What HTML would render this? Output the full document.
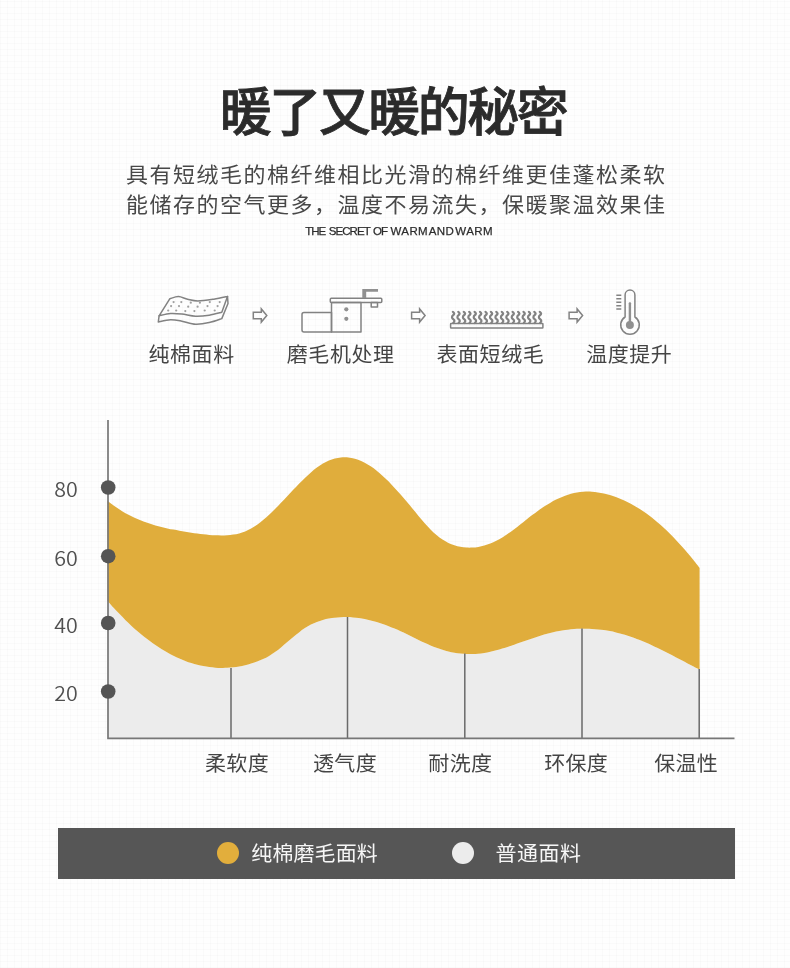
<!DOCTYPE html>
<html lang="zh-CN">
<head>
<meta charset="utf-8">
<title>暖了又暖的秘密</title>
<style>
*{margin:0;padding:0;box-sizing:border-box}
html,body{width:790px;height:968px;overflow:hidden;background:#fdfdfd}
body{font-family:"Liberation Sans","Noto Sans CJK SC",sans-serif;color:#3a3a3a;position:relative}
.page{position:absolute;left:0;top:0;width:790px;height:968px;overflow:hidden;background-color:#fefefe;background-image:repeating-linear-gradient(0deg,rgba(0,0,0,.014) 0 1px,transparent 1px 6px),repeating-linear-gradient(90deg,rgba(0,0,0,.014) 0 1px,transparent 1px 7px)}
.abs{position:absolute;white-space:nowrap}
.title{left:-2px;width:790px;top:70.5px;text-align:center;font-family:"Noto Sans CJK SC",sans-serif;font-weight:500;font-size:52px;line-height:76px;letter-spacing:-2.5px;color:#2b2b2b;-webkit-text-stroke:0.8px #2b2b2b}
.sub{left:1.3px;width:790px;text-align:center;font-family:"Noto Sans CJK SC",sans-serif;font-weight:400;font-size:22px;line-height:30px;letter-spacing:1.5px;color:#484848}
.s1{top:156.5px}
.s2{top:187px}
.en{left:305.2px;top:222.5px;font-family:"Liberation Sans",sans-serif;font-size:11.5px;line-height:16px;color:#2c2c2c;-webkit-text-stroke:0.25px #2c2c2c}
.e1{letter-spacing:-0.95px;word-spacing:1.2px}
.e2{letter-spacing:0.4px;word-spacing:-2.4px}
.lbl{font-family:"Noto Sans CJK SC",sans-serif;font-weight:400;font-size:21px;line-height:28px;letter-spacing:0.55px;color:#444;text-align:center}
.xl{font-family:"Noto Sans CJK SC",sans-serif;font-weight:400;font-size:21px;line-height:28px;letter-spacing:0.3px;color:#444;text-align:center;width:100px}
.yl{font-family:"Noto Sans CJK SC",sans-serif;font-weight:350;font-size:20px;line-height:28px;color:#505050;left:46.2px;width:40px;text-align:center;transform:scale(1.07,.98);transform-origin:50% 50%}
.legend{left:58px;top:828px;width:677px;height:51px;background:#565656}
.lt{font-family:"Noto Sans CJK SC",sans-serif;font-weight:400;font-size:21px;line-height:28px;letter-spacing:0.1px;color:#f6f6f6}
.dot{border-radius:50%}
.sub,.lbl,.xl,.lt{transform:scaleY(.955);transform-origin:50% 50%}
svg{position:absolute;left:0;top:0}
</style>
</head>
<body>
<div class="page">
  <h1 class="abs title">暖了又暖的秘密</h1>
  <p class="abs sub s1">具有短绒毛的棉纤维相比光滑的棉纤维更佳蓬松柔软</p>
  <p class="abs sub s2">能储存的空气更多，温度不易流失，保暖聚温效果佳</p>
  <p class="abs en"><span class="e1">THE SECRET OF </span><span class="e2">WARM AND WARM</span></p>

  <!--ICONS-->
<svg width="790" height="968" viewBox="0 0 790 968">
<g fill="none" stroke="#828282" stroke-width="1.5" stroke-linejoin="round" stroke-linecap="round">
<path d="M169.9 298.7C171.3 298.4 175.6 296.5 178.5 296.6C181.4 296.7 184.4 298.5 187.6 299.2C190.8 299.9 193.4 300.9 197.8 300.9C202.2 300.9 208.9 299.9 213.8 299.2C218.8 298.4 225.2 296.9 227.5 296.4L221.8 312.3C219.7 312.8 213.6 314.5 209.2 315.2C204.8 315.9 200.1 316.5 195.6 316.3C191.1 316.1 186.1 314.6 181.9 314.1C177.7 313.6 174.3 313.2 170.5 313.5C166.7 313.8 161.0 315.4 159.1 315.8Z"/>
<path d="M159.1 315.8L158.3 322C160.3 321.6 166.6 319.8 170.5 319.7C174.4 319.6 177.7 320.4 181.9 321.2C186.1 322.0 191.1 324.1 195.6 324.3C200.1 324.5 204.8 323.6 209.2 322.6C213.6 321.7 219.7 319.3 221.8 318.6L228 303.5L227.5 296.4"/>
<g id="arrows" stroke-width="1.5" stroke-linejoin="miter">
<path d="M253.3 312.3H261.3V308.9L266.8 315.5L261.3 322.1V318.8H253.3Z"/>
<path d="M253.3 312.3H261.3V308.9L266.8 315.5L261.3 322.1V318.8H253.3Z" transform="translate(158.3 0)"/>
<path d="M253.3 312.3H261.3V308.9L266.8 315.5L261.3 322.1V318.8H253.3Z" transform="translate(315.8 0)"/>
</g>
<path d="M304 312.5H331.5V332H304a2 2 0 0 1-2-2V314.5a2 2 0 0 1 2-2Z"/>
<path d="M331.5 302.5H361V332H331.5Z"/>
<rect x="330.3" y="298.2" width="51.5" height="4.3" rx="1"/>
<rect x="371.2" y="302.5" width="6.3" height="4.5"/>
<rect x="450.6" y="323.5" width="92.3" height="4.6" rx="0.5"/>
<path stroke-width="2.2" d="M453.2 323c1.6-1.6 1.6-2.6 0-3.9s-1.6-2.6 0-3.9s0.9-2.6-0.3-3.4M458.6 323c1.6-1.6 1.6-2.6 0-3.9s-1.6-2.6 0-3.9s0.9-2.6-0.3-3.4M464.1 323c1.6-1.6 1.6-2.6 0-3.9s-1.6-2.6 0-3.9s0.9-2.6-0.3-3.4M469.5 323c1.6-1.6 1.6-2.6 0-3.9s-1.6-2.6 0-3.9s0.9-2.6-0.3-3.4M474.9 323c1.6-1.6 1.6-2.6 0-3.9s-1.6-2.6 0-3.9s0.9-2.6-0.3-3.4M480.3 323c1.6-1.6 1.6-2.6 0-3.9s-1.6-2.6 0-3.9s0.9-2.6-0.3-3.4M485.8 323c1.6-1.6 1.6-2.6 0-3.9s-1.6-2.6 0-3.9s0.9-2.6-0.3-3.4M491.2 323c1.6-1.6 1.6-2.6 0-3.9s-1.6-2.6 0-3.9s0.9-2.6-0.3-3.4M496.6 323c1.6-1.6 1.6-2.6 0-3.9s-1.6-2.6 0-3.9s0.9-2.6-0.3-3.4M502.1 323c1.6-1.6 1.6-2.6 0-3.9s-1.6-2.6 0-3.9s0.9-2.6-0.3-3.4M507.5 323c1.6-1.6 1.6-2.6 0-3.9s-1.6-2.6 0-3.9s0.9-2.6-0.3-3.4M512.9 323c1.6-1.6 1.6-2.6 0-3.9s-1.6-2.6 0-3.9s0.9-2.6-0.3-3.4M518.4 323c1.6-1.6 1.6-2.6 0-3.9s-1.6-2.6 0-3.9s0.9-2.6-0.3-3.4M523.8 323c1.6-1.6 1.6-2.6 0-3.9s-1.6-2.6 0-3.9s0.9-2.6-0.3-3.4M529.2 323c1.6-1.6 1.6-2.6 0-3.9s-1.6-2.6 0-3.9s0.9-2.6-0.3-3.4M534.6 323c1.6-1.6 1.6-2.6 0-3.9s-1.6-2.6 0-3.9s0.9-2.6-0.3-3.4M540.1 323c1.6-1.6 1.6-2.6 0-3.9s-1.6-2.6 0-3.9s0.9-2.6-0.3-3.4"/>
<path stroke-width="1.5" d="M625.1 317V294.9a4.9 4.9 0 0 1 9.8 0V317a9.3 9.3 0 1 1-9.8 0Z"/>
<path stroke-width="1.5" stroke-linecap="butt" d="M616.3 295.2H621.3M616.3 298.8H621.3M616.3 302.2H621.3M616.3 305.7H621.3M616.3 309.1H621.3"/>
</g>
<g fill="#909090">
<path d="M362.3 289H378V291.8H366.2V298H362.3Z"/>
<circle cx="346.3" cy="309.3" r="2.1"/><circle cx="346.3" cy="318.8" r="2.1"/>
<circle cx="629.9" cy="324.9" r="4"/>
<rect x="628.7" y="302.3" width="2.4" height="22" rx="1"/>
</g>
<g fill="#a0a0a0"><circle cx="173.6" cy="302.1" r="1.1"/><circle cx="181.3" cy="302.1" r="1.1"/><circle cx="190.8" cy="302.7" r="1.1"/><circle cx="199.9" cy="302.7" r="1.1"/><circle cx="209.8" cy="302.1" r="1.1"/><circle cx="219.7" cy="302.1" r="1.1"/><circle cx="171.1" cy="306.1" r="1.1"/><circle cx="179.0" cy="306.1" r="1.1"/><circle cx="188.2" cy="306.7" r="1.1"/><circle cx="197.6" cy="306.7" r="1.1"/><circle cx="207.5" cy="306.1" r="1.1"/><circle cx="217.6" cy="306.1" r="1.1"/><circle cx="168.2" cy="310.5" r="1.1"/><circle cx="176.2" cy="310.5" r="1.1"/><circle cx="185.3" cy="311.1" r="1.1"/><circle cx="194.4" cy="311.1" r="1.1"/><circle cx="204.7" cy="310.5" r="1.1"/><circle cx="214.7" cy="310.5" r="1.1"/></g>
</svg>
<!--/ICONS-->
  <div class="abs lbl" style="left:91.6px;top:339.2px;width:200px">纯棉面料</div>
  <div class="abs lbl" style="left:240.7px;top:339.2px;width:200px">磨毛机处理</div>
  <div class="abs lbl" style="left:390.4px;top:339.2px;width:200px">表面短绒毛</div>
  <div class="abs lbl" style="left:529.3px;top:339.2px;width:200px">温度提升</div>

  <!--CHART-->
<svg width="790" height="968" viewBox="0 0 790 968">
<path d="M107.6 600.9C108.6 602.0 111.6 605.5 113.6 607.7C115.6 609.9 117.6 612.0 119.6 614.1C121.6 616.2 123.5 618.2 125.5 620.2C127.5 622.1 129.5 624.0 131.5 625.9C133.5 627.7 135.5 629.5 137.5 631.2C139.5 632.9 141.5 634.6 143.5 636.2C145.5 637.8 147.5 639.3 149.5 640.8C151.5 642.3 153.4 643.7 155.4 645.1C157.4 646.4 159.4 647.7 161.4 649.0C163.4 650.2 165.4 651.4 167.4 652.5C169.4 653.6 171.4 654.7 173.4 655.7C175.4 656.7 177.4 657.6 179.4 658.5C181.4 659.4 183.3 660.2 185.3 660.9C187.3 661.7 189.3 662.4 191.3 663.0C193.3 663.6 195.3 664.2 197.3 664.7C199.3 665.2 201.3 665.7 203.3 666.1C205.3 666.5 207.3 666.8 209.3 667.1C211.2 667.3 213.2 667.5 215.2 667.7C217.2 667.8 219.2 667.9 221.2 667.9C223.2 668.0 225.2 667.9 227.2 667.8C229.2 667.7 231.2 667.5 233.2 667.3C235.2 667.1 237.2 666.8 239.2 666.5C241.1 666.1 243.1 665.7 245.1 665.2C247.1 664.8 249.1 664.2 251.1 663.6C253.1 663.0 255.1 662.4 257.1 661.6C259.1 660.9 261.1 660.1 263.1 659.1C265.1 658.2 267.1 657.2 269.1 656.0C271.0 654.8 273.0 653.5 275.0 652.1C277.0 650.7 279.0 649.1 281.0 647.4C283.0 645.8 285.0 644.0 287.0 642.3C289.0 640.6 291.0 638.8 293.0 637.2C295.0 635.5 297.0 633.9 299.0 632.4C300.9 630.9 302.9 629.4 304.9 628.1C306.9 626.8 308.9 625.6 310.9 624.6C312.9 623.5 314.9 622.6 316.9 621.9C318.9 621.1 320.9 620.5 322.9 619.9C324.9 619.4 326.9 618.9 328.9 618.6C330.8 618.2 332.8 617.9 334.8 617.7C336.8 617.4 338.8 617.3 340.8 617.2C342.8 617.1 344.8 617.1 346.8 617.1C348.8 617.1 350.8 617.3 352.8 617.4C354.8 617.6 356.8 617.8 358.8 618.1C360.7 618.4 362.7 618.7 364.7 619.1C366.7 619.5 368.7 620.0 370.7 620.5C372.7 621.0 374.7 621.5 376.7 622.1C378.7 622.7 380.7 623.4 382.7 624.0C384.7 624.7 386.7 625.5 388.7 626.2C390.6 627.0 392.6 627.8 394.6 628.6C396.6 629.5 398.6 630.4 400.6 631.3C402.6 632.2 404.6 633.1 406.6 634.1C408.6 635.0 410.6 636.0 412.6 637.0C414.6 638.0 416.6 638.9 418.5 639.9C420.5 640.9 422.5 641.8 424.5 642.7C426.5 643.6 428.5 644.5 430.5 645.4C432.5 646.2 434.5 647.0 436.5 647.8C438.5 648.5 440.5 649.2 442.5 649.8C444.5 650.4 446.5 651.0 448.4 651.5C450.4 651.9 452.4 652.4 454.4 652.7C456.4 653.1 458.4 653.4 460.4 653.6C462.4 653.8 464.4 654.0 466.4 654.0C468.4 654.1 470.4 654.1 472.4 654.1C474.4 654.0 476.4 653.9 478.3 653.7C480.3 653.5 482.3 653.2 484.3 652.9C486.3 652.6 488.3 652.2 490.3 651.7C492.3 651.3 494.3 650.8 496.3 650.3C498.3 649.8 500.3 649.2 502.3 648.6C504.3 648.0 506.3 647.4 508.2 646.7C510.2 646.1 512.2 645.4 514.2 644.7C516.2 644.0 518.2 643.3 520.2 642.6C522.2 641.9 524.2 641.2 526.2 640.5C528.2 639.8 530.2 639.1 532.2 638.4C534.2 637.8 536.2 637.1 538.1 636.5C540.1 635.8 542.1 635.2 544.1 634.6C546.1 634.1 548.1 633.5 550.1 633.0C552.1 632.5 554.1 632.0 556.1 631.6C558.1 631.2 560.1 630.8 562.1 630.5C564.1 630.2 566.1 629.9 568.0 629.7C570.0 629.4 572.0 629.2 574.0 629.1C576.0 628.9 578.0 628.8 580.0 628.8C582.0 628.7 584.0 628.7 586.0 628.7C588.0 628.7 590.0 628.8 592.0 628.9C594.0 629.0 596.0 629.2 597.9 629.4C599.9 629.6 601.9 629.8 603.9 630.1C605.9 630.4 607.9 630.8 609.9 631.1C611.9 631.5 613.9 631.9 615.9 632.4C617.9 632.9 619.9 633.4 621.9 634.0C623.9 634.5 625.8 635.1 627.8 635.8C629.8 636.4 631.8 637.1 633.8 637.8C635.8 638.6 637.8 639.3 639.8 640.1C641.8 640.9 643.8 641.8 645.8 642.6C647.8 643.5 649.8 644.4 651.8 645.3C653.8 646.2 655.7 647.2 657.7 648.1C659.7 649.1 661.7 650.1 663.7 651.0C665.7 652.0 667.7 653.1 669.7 654.1C671.7 655.1 673.7 656.1 675.7 657.2C677.7 658.2 679.7 659.2 681.7 660.3C683.7 661.3 685.6 662.4 687.6 663.4C689.6 664.5 691.6 665.5 693.6 666.5C695.6 667.6 698.6 669.1 699.6 669.6L699.9 738L107.6 738Z" fill="#ececec"/>
<path d="M107.6 501.0C108.6 501.8 111.6 504.1 113.6 505.6C115.6 507.0 117.6 508.3 119.6 509.6C121.6 510.9 123.5 512.1 125.5 513.2C127.5 514.3 129.5 515.4 131.5 516.3C133.5 517.3 135.5 518.2 137.5 519.1C139.5 520.0 141.5 520.8 143.5 521.5C145.5 522.3 147.5 523.0 149.5 523.6C151.5 524.3 153.4 524.9 155.4 525.5C157.4 526.0 159.4 526.6 161.4 527.0C163.4 527.5 165.4 528.0 167.4 528.4C169.4 528.9 171.4 529.3 173.4 529.6C175.4 530.0 177.4 530.4 179.4 530.7C181.4 531.1 183.3 531.4 185.3 531.7C187.3 532.1 189.3 532.4 191.3 532.7C193.3 533.0 195.3 533.3 197.3 533.5C199.3 533.8 201.3 534.1 203.3 534.3C205.3 534.5 207.3 534.7 209.3 534.9C211.2 535.1 213.2 535.2 215.2 535.3C217.2 535.4 219.2 535.4 221.2 535.4C223.2 535.4 225.2 535.3 227.2 535.2C229.2 535.1 231.2 534.9 233.2 534.6C235.2 534.3 237.2 533.9 239.2 533.4C241.1 532.9 243.1 532.3 245.1 531.5C247.1 530.7 249.1 529.7 251.1 528.6C253.1 527.5 255.1 526.2 257.1 524.8C259.1 523.4 261.1 521.8 263.1 520.1C265.1 518.5 267.1 516.7 269.1 514.8C271.0 512.9 273.0 511.0 275.0 509.0C277.0 507.0 279.0 504.9 281.0 502.8C283.0 500.7 285.0 498.6 287.0 496.5C289.0 494.3 291.0 492.2 293.0 490.1C295.0 488.0 297.0 485.9 299.0 483.8C300.9 481.8 302.9 479.8 304.9 477.9C306.9 476.0 308.9 474.2 310.9 472.4C312.9 470.7 314.9 469.1 316.9 467.6C318.9 466.1 320.9 464.8 322.9 463.6C324.9 462.4 326.9 461.4 328.9 460.5C330.8 459.7 332.8 459.0 334.8 458.5C336.8 458.0 338.8 457.6 340.8 457.4C342.8 457.2 344.8 457.2 346.8 457.3C348.8 457.5 350.8 457.8 352.8 458.2C354.8 458.6 356.8 459.2 358.8 460.0C360.7 460.7 362.7 461.6 364.7 462.7C366.7 463.7 368.7 464.9 370.7 466.3C372.7 467.6 374.7 469.1 376.7 470.7C378.7 472.3 380.7 474.0 382.7 475.9C384.7 477.7 386.7 479.6 388.7 481.6C390.6 483.7 392.6 485.8 394.6 487.9C396.6 490.1 398.6 492.4 400.6 494.6C402.6 496.9 404.6 499.3 406.6 501.6C408.6 504.0 410.6 506.4 412.6 508.8C414.6 511.2 416.6 513.6 418.5 516.0C420.5 518.4 422.5 520.8 424.5 523.0C426.5 525.2 428.5 527.4 430.5 529.4C432.5 531.4 434.5 533.4 436.5 535.0C438.5 536.7 440.5 538.2 442.5 539.6C444.5 540.9 446.5 542.0 448.4 542.9C450.4 543.9 452.4 544.7 454.4 545.3C456.4 546.0 458.4 546.5 460.4 546.8C462.4 547.2 464.4 547.4 466.4 547.6C468.4 547.7 470.4 547.7 472.4 547.6C474.4 547.5 476.4 547.3 478.3 546.9C480.3 546.6 482.3 546.1 484.3 545.6C486.3 545.0 488.3 544.3 490.3 543.5C492.3 542.7 494.3 541.8 496.3 540.8C498.3 539.8 500.3 538.7 502.3 537.5C504.3 536.3 506.3 534.9 508.2 533.5C510.2 532.2 512.2 530.7 514.2 529.2C516.2 527.7 518.2 526.1 520.2 524.5C522.2 523.0 524.2 521.4 526.2 519.8C528.2 518.2 530.2 516.7 532.2 515.1C534.2 513.6 536.2 512.1 538.1 510.7C540.1 509.2 542.1 507.9 544.1 506.6C546.1 505.3 548.1 504.0 550.1 502.9C552.1 501.7 554.1 500.6 556.1 499.6C558.1 498.6 560.1 497.7 562.1 496.9C564.1 496.0 566.1 495.3 568.0 494.7C570.0 494.0 572.0 493.5 574.0 493.0C576.0 492.6 578.0 492.2 580.0 492.0C582.0 491.8 584.0 491.6 586.0 491.6C588.0 491.5 590.0 491.6 592.0 491.7C594.0 491.8 596.0 492.1 597.9 492.4C599.9 492.7 601.9 493.1 603.9 493.5C605.9 494.0 607.9 494.5 609.9 495.1C611.9 495.7 613.9 496.4 615.9 497.1C617.9 497.8 619.9 498.6 621.9 499.5C623.9 500.3 625.8 501.2 627.8 502.2C629.8 503.2 631.8 504.3 633.8 505.4C635.8 506.5 637.8 507.7 639.8 509.0C641.8 510.2 643.8 511.6 645.8 513.0C647.8 514.4 649.8 515.9 651.8 517.4C653.8 519.0 655.7 520.6 657.7 522.4C659.7 524.1 661.7 525.9 663.7 527.7C665.7 529.6 667.7 531.5 669.7 533.5C671.7 535.5 673.7 537.5 675.7 539.7C677.7 541.8 679.7 544.0 681.7 546.2C683.7 548.4 685.6 550.7 687.6 553.1C689.6 555.5 691.6 557.9 693.6 560.3C695.6 562.8 698.6 566.6 699.6 567.9L699.6 669.6C698.6 669.1 695.6 667.6 693.6 666.5C691.6 665.5 689.6 664.5 687.6 663.4C685.6 662.4 683.7 661.3 681.7 660.3C679.7 659.2 677.7 658.2 675.7 657.2C673.7 656.1 671.7 655.1 669.7 654.1C667.7 653.1 665.7 652.0 663.7 651.0C661.7 650.1 659.7 649.1 657.7 648.1C655.7 647.2 653.8 646.2 651.8 645.3C649.8 644.4 647.8 643.5 645.8 642.6C643.8 641.8 641.8 640.9 639.8 640.1C637.8 639.3 635.8 638.6 633.8 637.8C631.8 637.1 629.8 636.4 627.8 635.8C625.8 635.1 623.9 634.5 621.9 634.0C619.9 633.4 617.9 632.9 615.9 632.4C613.9 631.9 611.9 631.5 609.9 631.1C607.9 630.8 605.9 630.4 603.9 630.1C601.9 629.8 599.9 629.6 597.9 629.4C596.0 629.2 594.0 629.0 592.0 628.9C590.0 628.8 588.0 628.7 586.0 628.7C584.0 628.7 582.0 628.7 580.0 628.8C578.0 628.8 576.0 628.9 574.0 629.1C572.0 629.2 570.0 629.4 568.0 629.7C566.1 629.9 564.1 630.2 562.1 630.5C560.1 630.8 558.1 631.2 556.1 631.6C554.1 632.0 552.1 632.5 550.1 633.0C548.1 633.5 546.1 634.1 544.1 634.6C542.1 635.2 540.1 635.8 538.1 636.5C536.2 637.1 534.2 637.8 532.2 638.4C530.2 639.1 528.2 639.8 526.2 640.5C524.2 641.2 522.2 641.9 520.2 642.6C518.2 643.3 516.2 644.0 514.2 644.7C512.2 645.4 510.2 646.1 508.2 646.7C506.3 647.4 504.3 648.0 502.3 648.6C500.3 649.2 498.3 649.8 496.3 650.3C494.3 650.8 492.3 651.3 490.3 651.7C488.3 652.2 486.3 652.6 484.3 652.9C482.3 653.2 480.3 653.5 478.3 653.7C476.4 653.9 474.4 654.0 472.4 654.1C470.4 654.1 468.4 654.1 466.4 654.0C464.4 654.0 462.4 653.8 460.4 653.6C458.4 653.4 456.4 653.1 454.4 652.7C452.4 652.4 450.4 651.9 448.4 651.5C446.5 651.0 444.5 650.4 442.5 649.8C440.5 649.2 438.5 648.5 436.5 647.8C434.5 647.0 432.5 646.2 430.5 645.4C428.5 644.5 426.5 643.6 424.5 642.7C422.5 641.8 420.5 640.9 418.5 639.9C416.6 638.9 414.6 638.0 412.6 637.0C410.6 636.0 408.6 635.0 406.6 634.1C404.6 633.1 402.6 632.2 400.6 631.3C398.6 630.4 396.6 629.5 394.6 628.6C392.6 627.8 390.6 627.0 388.7 626.2C386.7 625.5 384.7 624.7 382.7 624.0C380.7 623.4 378.7 622.7 376.7 622.1C374.7 621.5 372.7 621.0 370.7 620.5C368.7 620.0 366.7 619.5 364.7 619.1C362.7 618.7 360.7 618.4 358.8 618.1C356.8 617.8 354.8 617.6 352.8 617.4C350.8 617.3 348.8 617.1 346.8 617.1C344.8 617.1 342.8 617.1 340.8 617.2C338.8 617.3 336.8 617.4 334.8 617.7C332.8 617.9 330.8 618.2 328.9 618.6C326.9 618.9 324.9 619.4 322.9 619.9C320.9 620.5 318.9 621.1 316.9 621.9C314.9 622.6 312.9 623.5 310.9 624.6C308.9 625.6 306.9 626.8 304.9 628.1C302.9 629.4 300.9 630.9 299.0 632.4C297.0 633.9 295.0 635.5 293.0 637.2C291.0 638.8 289.0 640.6 287.0 642.3C285.0 644.0 283.0 645.8 281.0 647.4C279.0 649.1 277.0 650.7 275.0 652.1C273.0 653.5 271.0 654.8 269.1 656.0C267.1 657.2 265.1 658.2 263.1 659.1C261.1 660.1 259.1 660.9 257.1 661.6C255.1 662.4 253.1 663.0 251.1 663.6C249.1 664.2 247.1 664.8 245.1 665.2C243.1 665.7 241.1 666.1 239.2 666.5C237.2 666.8 235.2 667.1 233.2 667.3C231.2 667.5 229.2 667.7 227.2 667.8C225.2 667.9 223.2 668.0 221.2 667.9C219.2 667.9 217.2 667.8 215.2 667.7C213.2 667.5 211.2 667.3 209.3 667.1C207.3 666.8 205.3 666.5 203.3 666.1C201.3 665.7 199.3 665.2 197.3 664.7C195.3 664.2 193.3 663.6 191.3 663.0C189.3 662.4 187.3 661.7 185.3 660.9C183.3 660.2 181.4 659.4 179.4 658.5C177.4 657.6 175.4 656.7 173.4 655.7C171.4 654.7 169.4 653.6 167.4 652.5C165.4 651.4 163.4 650.2 161.4 649.0C159.4 647.7 157.4 646.4 155.4 645.1C153.4 643.7 151.5 642.3 149.5 640.8C147.5 639.3 145.5 637.8 143.5 636.2C141.5 634.6 139.5 632.9 137.5 631.2C135.5 629.5 133.5 627.7 131.5 625.9C129.5 624.0 127.5 622.1 125.5 620.2C123.5 618.2 121.6 616.2 119.6 614.1C117.6 612.0 115.6 609.9 113.6 607.7C111.6 605.5 108.6 602.0 107.6 600.9Z" fill="#e0ad3c"/>
<path d="M231 668V738M347.5 617V738M464.8 653.5V738M582 628.5V738M699.2 669V738" stroke="#6a6a6a" stroke-width="1.5" fill="none"/>
<path d="M108 420V739M107.2 738.3H734.5" stroke="#777" stroke-width="1.7" fill="none"/>
<g fill="#555">
<circle cx="108.2" cy="487.5" r="7.3"/><circle cx="108.2" cy="556.2" r="7.3"/><circle cx="108.2" cy="623" r="7.3"/><circle cx="108.2" cy="691.5" r="7.3"/>
</g>
</svg>
<!--/CHART-->

  <div class="abs yl" style="top:474.6px">80</div>
  <div class="abs yl" style="top:543.6px">60</div>
  <div class="abs yl" style="top:610.6px">40</div>
  <div class="abs yl" style="top:679px">20</div>

  <div class="abs xl" style="left:187px;top:747.7px">柔软度</div>
  <div class="abs xl" style="left:295px;top:747.7px">透气度</div>
  <div class="abs xl" style="left:410.3px;top:747.7px">耐洗度</div>
  <div class="abs xl" style="left:526.2px;top:747.7px">环保度</div>
  <div class="abs xl" style="left:636.2px;top:747.7px">保温性</div>

  <div class="abs legend"></div>
  <div class="abs dot" style="left:217px;top:842px;width:22px;height:22px;background:#e2ae3c"></div>
  <div class="abs lt" style="left:251.3px;top:837.8px">纯棉磨毛面料</div>
  <div class="abs dot" style="left:452px;top:842px;width:22px;height:22px;background:#ececec"></div>
  <div class="abs lt" style="left:495.6px;top:837.8px;letter-spacing:0.5px">普通面料</div>
</div>
</body>
</html>
